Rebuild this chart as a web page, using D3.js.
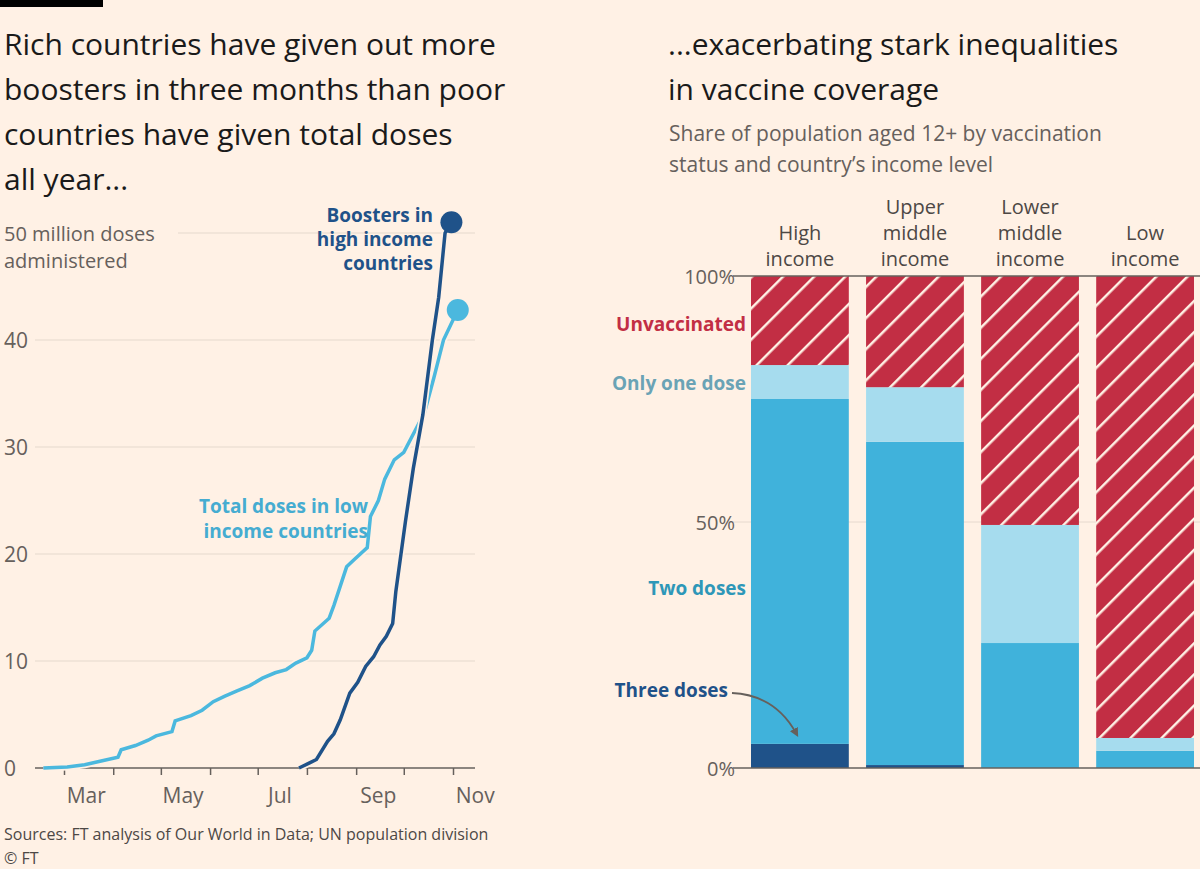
<!DOCTYPE html>
<html><head><meta charset="utf-8">
<script src="https://cdn.jsdelivr.net/npm/d3@7"></script>
<style>
body{margin:0;background:#fff1e5;}
text{font-family:"Open Sans",Lato,sans-serif;}
</style></head><body>
<script>
// left chart data: cumulative doses, millions
var lowDates = ["2021-02-16","2021-03-03","2021-03-14","2021-03-23","2021-04-04","2021-04-06","2021-04-15","2021-04-23","2021-04-28","2021-05-08","2021-05-10","2021-05-20","2021-05-27","2021-06-03","2021-06-10","2021-06-18","2021-06-26","2021-07-04","2021-07-12","2021-07-19","2021-07-25","2021-08-01","2021-08-04","2021-08-06","2021-08-15","2021-08-18","2021-08-22","2021-08-26","2021-08-31","2021-09-08","2021-09-10","2021-09-15","2021-09-19","2021-09-25","2021-10-01","2021-10-08","2021-10-14","2021-10-20","2021-10-26","2021-11-04"];
var lowValues = [0,0.1,0.3,0.6,1.0,1.7,2.1,2.6,3.0,3.4,4.4,4.9,5.4,6.2,6.7,7.2,7.7,8.4,8.9,9.2,9.8,10.3,11.0,12.8,14.0,15.2,17.0,18.8,19.5,20.6,23.5,25.0,27.0,28.8,29.5,31.5,33.2,36.5,40.0,42.8];
var boostDates = ["2021-07-27","2021-08-03","2021-08-07","2021-08-14","2021-08-18","2021-08-22","2021-08-28","2021-09-02","2021-09-07","2021-09-12","2021-09-16","2021-09-20","2021-09-24","2021-09-26","2021-10-02","2021-10-07","2021-10-13","2021-10-19","2021-10-23","2021-10-27","2021-10-31"];
var boostValues = [0,0.5,0.8,2.5,3.2,4.5,7,8,9.5,10.4,11.5,12.3,13.5,16.5,23,28,33,40,44,50,51];
var yTicksLeft = [0,10,20,30,40,50];
var monthLabels = ["Mar","May","Jul","Sep","Nov"];

// right chart data: share of 12+ population, %
var groups = ["High\nincome","Upper\nmiddle\nincome","Lower\nmiddle\nincome","Low\nincome"];
var threeDoses = [4.9,0.6,0,0];
var twoDoses = [70.1,65.7,25.4,3.5];
var oneDose = [6.9,11.1,24.0,2.6];
var unvaccinated = [18.1,22.6,50.6,93.9];

var W = 1200, H = 869;
var svg = d3.select("body").append("svg").attr("width", W).attr("height", H);
svg.append("rect").attr("width", W).attr("height", H).attr("fill", "#fff1e5");
svg.append("rect").attr("x", 0).attr("y", 0).attr("width", 103).attr("height", 7).attr("fill", "#000");

var defs = svg.append("defs");
var pat = defs.append("pattern").attr("id", "hatch").attr("patternUnits", "userSpaceOnUse")
    .attr("width", 22).attr("height", 22).attr("patternTransform", "rotate(45)");
pat.append("rect").attr("width", 22).attr("height", 22).attr("fill", "#c22e44");
pat.append("rect").attr("x", 0).attr("width", 2.5).attr("height", 22).attr("fill", "#fff1e5");

function lines(sel, arr, x, y, lh, opts) {
    var t = sel.append("text").attr("x", x).attr("y", y);
    for (var k in opts) t.attr(k, opts[k]);
    arr.forEach(function(s, i){ t.append("tspan").attr("x", x).attr("dy", i ? lh : 0).text(s); });
    return t;
}

lines(svg, ["Rich countries have given out more","boosters in three months than poor","countries have given total doses","all year..."], 4, 55, 45, {"font-size": 30, fill: "#1a1a1a"});
lines(svg, ["...exacerbating stark inequalities","in vaccine coverage"], 668, 55, 45, {"font-size": 30, fill: "#1a1a1a"});
lines(svg, ["Share of population aged 12+ by vaccination","status and country\u2019s income level"], 669, 141, 31, {"font-size": 21, fill: "#66605c"});

// ---- left chart
var parse = d3.timeParse("%Y-%m-%d");
var x = d3.scaleTime().domain([parse("2021-03-01"), parse("2021-11-01")]).range([64, 453]);
var y = d3.scaleLinear().domain([0, 50]).range([768, 233]);
var gl = svg.append("g");

yTicksLeft.forEach(function(v){
    if (v === 0) return;
    gl.append("line").attr("x1", v === 50 ? 178 : 35).attr("x2", 475)
        .attr("y1", y(v)).attr("y2", y(v)).attr("stroke", "#e6d9ce").attr("stroke-width", 1.2);
    if (v !== 50) gl.append("text").attr("x", 4).attr("y", y(v) + 8).attr("font-size", 21).attr("fill", "#66605c").text(v);
});
gl.append("text").attr("x", 4).attr("y", y(0) + 8).attr("font-size", 21).attr("fill", "#66605c").text(0);
lines(gl, ["50 million doses","administered"], 4, y(50) + 8, 27, {"font-size": 20, fill: "#66605c"});

var xAxis = d3.axisBottom(x).ticks(d3.timeMonth.every(1)).tickSize(7).tickFormat("");
gl.append("g").attr("transform", "translate(0,768)").call(xAxis)
    .call(function(g){ g.select(".domain").remove(); g.selectAll("line").attr("stroke", "#66605c").attr("stroke-width", 1.5); });
gl.append("line").attr("x1", 35).attr("x2", 475).attr("y1", 768).attr("y2", 768).attr("stroke", "#66605c").attr("stroke-width", 1.5);
monthLabels.forEach(function(m, i){
    var d = parse("2021-" + ["03","05","07","09","11"][i] + "-15");
    gl.append("text").attr("x", x(d)).attr("y", 803).attr("text-anchor", "middle").attr("font-size", 21).attr("fill", "#66605c").text(m);
});

var smooth = d3.line().x(function(d){ return x(d[0]); }).y(function(d){ return y(d[1]); });
var lowData = lowDates.map(function(d, i){ return [parse(d), lowValues[i]]; });
var boostData = boostDates.map(function(d, i){ return [parse(d), boostValues[i]]; });

gl.append("path").attr("d", smooth(lowData)).attr("fill", "none").attr("stroke", "#fff1e5").attr("stroke-width", 7);
gl.append("path").attr("d", smooth(lowData)).attr("fill", "none").attr("stroke", "#4bb8de").attr("stroke-width", 3.5);
gl.append("path").attr("d", smooth(boostData)).attr("fill", "none").attr("stroke", "#fff1e5").attr("stroke-width", 7);
gl.append("path").attr("d", smooth(boostData)).attr("fill", "none").attr("stroke", "#1f5289").attr("stroke-width", 3.5);
var lastLow = lowData[lowData.length - 1], lastB = boostData[boostData.length - 1];
gl.append("circle").attr("cx", x(lastLow[0])).attr("cy", y(lastLow[1])).attr("r", 11).attr("fill", "#4bb8de");
gl.append("circle").attr("cx", x(lastB[0])).attr("cy", y(lastB[1])).attr("r", 11).attr("fill", "#1f5289");

lines(gl, ["Boosters in","high income","countries"], 433, 222, 24, {"font-size": 19, "font-weight": "bold", fill: "#1f5289", "text-anchor": "end"});
lines(gl, ["Total doses in low","income countries"], 368, 513, 25, {"font-size": 19, "font-weight": "bold", fill: "#45acd1", "text-anchor": "end"});

// ---- right chart
var xb = d3.scaleBand().domain(groups).range([751, 1194]).paddingInner(0.15);
var yb = d3.scaleLinear().domain([0, 100]).range([768, 276]);
var gr = svg.append("g");
gr.append("line").attr("x1", 733).attr("x2", 1200).attr("y1", yb(50)).attr("y2", yb(50)).attr("stroke", "#e6d9ce");

var layers = [
    {vals: threeDoses, fill: "#1f5289"},
    {vals: twoDoses, fill: "#40b2db"},
    {vals: oneDose, fill: "#a6dcee"},
    {vals: unvaccinated, fill: "url(#hatch)"}
];
groups.forEach(function(g, i){
    var base = 0;
    layers.forEach(function(l){
        var v = l.vals[i];
        if (v > 0) gr.append("rect").attr("x", xb(g)).attr("width", xb.bandwidth())
            .attr("y", yb(base + v)).attr("height", yb(base) - yb(base + v)).attr("fill", l.fill);
        base += v;
    });
    var parts = g.split("\n");
    lines(gr, parts, xb(g) + xb.bandwidth() / 2, 266 - (parts.length - 1) * 26, 26, {"font-size": 20, fill: "#4d4845", "text-anchor": "middle"});
});
[[0, "0%"], [50, "50%"], [100, "100%"]].forEach(function(t){
    gr.append("text").attr("x", 735).attr("y", yb(t[0]) + 8).attr("text-anchor", "end").attr("font-size", 20).attr("fill", "#66605c").text(t[1]);
});
gr.append("line").attr("x1", 733).attr("x2", 1200).attr("y1", yb(100)).attr("y2", yb(100)).attr("stroke", "#66605c").attr("stroke-width", 1.5);
gr.append("line").attr("x1", 733).attr("x2", 1200).attr("y1", yb(0)).attr("y2", yb(0)).attr("stroke", "#66605c").attr("stroke-width", 1.5);

var lbl = {"font-size": 19, "font-weight": "bold", "text-anchor": "end"};
lines(gr, ["Unvaccinated"], 746, 331, 0, Object.assign({fill: "#c22e44"}, lbl));
lines(gr, ["Only one dose"], 746, 390, 0, Object.assign({fill: "#6aa3b5"}, lbl));
lines(gr, ["Two doses"], 746, 595, 0, Object.assign({fill: "#2e97b8"}, lbl));
lines(gr, ["Three doses"], 728, 697, 0, Object.assign({fill: "#1f5289"}, lbl));
defs.append("marker").attr("id", "arr").attr("viewBox", "0 0 10 10").attr("refX", 5).attr("refY", 5)
    .attr("markerWidth", 5).attr("markerHeight", 5).attr("orient", "auto")
    .append("path").attr("d", "M0,0L10,5L0,10z").attr("fill", "#66605c");
gr.append("path").attr("d", "M732,693 Q775,695 796,733").attr("fill", "none").attr("stroke", "#66605c").attr("stroke-width", 1.8).attr("marker-end", "url(#arr)");

svg.append("text").attr("x", 4).attr("y", 840).attr("font-size", 16).attr("fill", "#4d4845").text("Sources: FT analysis of Our World in Data; UN population division");
svg.append("text").attr("x", 4).attr("y", 864).attr("font-size", 16).attr("fill", "#4d4845").text("\u00a9 FT");
</script>
</body></html>
